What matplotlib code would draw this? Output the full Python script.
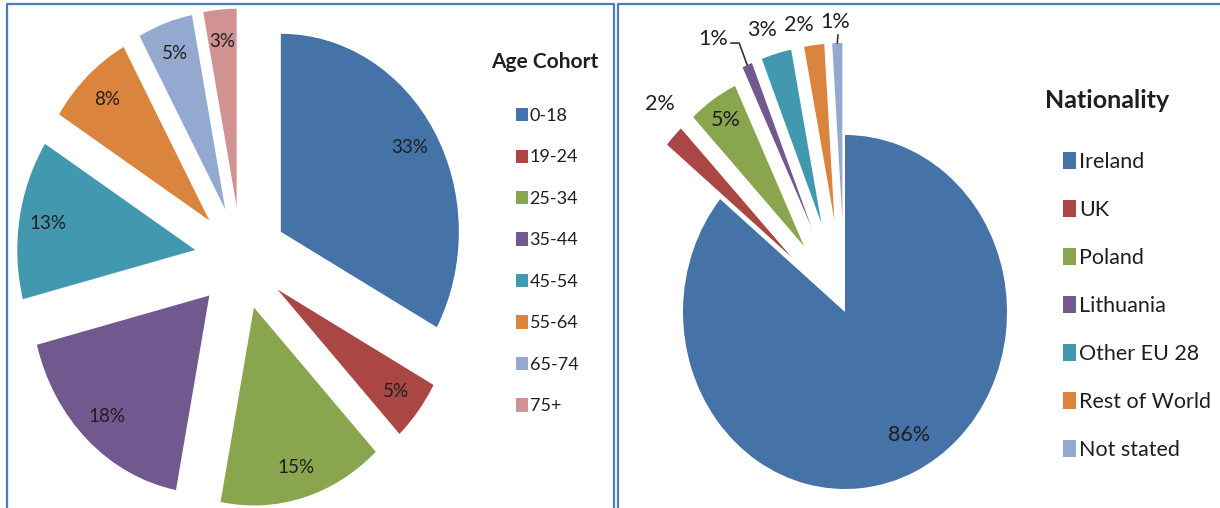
import numpy as np
import matplotlib.pyplot as plt
from matplotlib.lines import Line2D

# data
age_labels = ['0-18', '19-24', '25-34', '35-44', '45-54', '55-64', '65-74', '75+']
age_values = [33, 5, 15, 18, 13, 8, 5, 3]

nat_labels = ['Ireland', 'UK', 'Poland', 'Lithuania', 'Other EU 28',
              'Rest of World', 'Not stated']
nat_values = [86, 2, 5, 1, 3, 2, 1]

# Excel 2007 style palette
palette = ['#4572A7', '#AA4643', '#89A54E', '#71588F',
           '#4198AF', '#DB843D', '#93A9CF', '#D19392']

W, H = 1220, 508
TXT = '#1f1f1f'
FRAME = '#4A7EBB'
plt.rcParams['font.family'] = ['Lato', 'DejaVu Sans']

fig = plt.figure(figsize=(W / 100, H / 100), dpi=100)


def fit_pie(ax, x0, x1, cx, cy, rx, ry):
    # stretch the pie so its centre lands at pixel (cx, cy) with radii rx / ry
    ax.set_aspect('auto')
    ax.set_xlim((x0 - cx) / rx, (x1 - cx) / rx)
    ax.set_ylim(-(H - cy) / ry, cy / ry)
    ax.axis('off')


def px(x, y):
    return x / W, 1 - y / H


# ---- left panel: age cohort
ax1 = fig.add_axes([0, 0, 610 / W, 1])
wedges1, _, pct1 = ax1.pie(age_values, colors=palette,
                           explode=[0.26] * len(age_values),
                           startangle=90, counterclock=False,
                           autopct='%1.0f%%', pctdistance=0.84,
                           textprops=dict(fontsize=13.5, color=TXT))
fit_pie(ax1, 0, 610, 241, 258, 178, 198)

fig.text(*px(545, 62), 'Age Cohort', ha='center', va='center',
         fontsize=15, fontweight='bold', color=TXT)
fig.legend(wedges1, age_labels, loc='upper left',
           bbox_to_anchor=px(516, 108), frameon=False, fontsize=13,
           labelspacing=1.41, handlelength=0.65, handleheight=0.75,
           handletextpad=0.1, borderpad=0, borderaxespad=0, labelcolor=TXT)

# ---- right panel: nationality
ax2 = fig.add_axes([610 / W, 0, 610 / W, 1])
nat_explode = [0, 0.45, 0.45, 0.52, 0.52, 0.52, 0.52]
wedges2, _ = ax2.pie(nat_values, colors=palette[:len(nat_values)],
                     explode=nat_explode, startangle=90, counterclock=False)
fit_pie(ax2, 610, 1220, 845, 312, 162, 177)

# label placement per slice: radial distance, pixel shift, leader line
lab_dist = [0.78, 1.0, 0.86, 1.0, 1.0, 1.0, 1.0]
lab_shift = [(10, 2), (-14, 32), (0, 0), (-34, 26), (-14, 24), (-15, 20), (-2, 21)]
leaders = [None,
           None,
           None,
           dict(angleB=110, relpos=(1, 0.3)),
           None,
           None,
           dict(angleB=85, relpos=(0, 0.3))]

for w, v, d, (dx, dy), lead in zip(wedges2, nat_values, lab_dist, lab_shift, leaders):
    ang = np.deg2rad((w.theta1 + w.theta2) / 2)
    x = w.center[0] + d * w.r * np.cos(ang)
    y = w.center[1] + d * w.r * np.sin(ang)
    arrow = None
    if lead:
        arrow = dict(arrowstyle='-', color='#333333', lw=1.2,
                     connectionstyle=f"angle,angleA=0,angleB={lead['angleB']},rad=0",
                     relpos=lead['relpos'], shrinkA=0, shrinkB=0)
    ax2.annotate(f'{v}%', (x, y), xytext=(dx, dy), textcoords='offset pixels',
                 ha='center', va='center', fontsize=15.5, color=TXT,
                 arrowprops=arrow, annotation_clip=False)

fig.text(*px(1107, 100), 'Nationality', ha='center', va='center',
         fontsize=18, fontweight='bold', color=TXT)
fig.legend(wedges2, nat_labels, loc='upper left',
           bbox_to_anchor=px(1063, 152), frameon=False, fontsize=15.5,
           labelspacing=1.30, handlelength=0.6, handleheight=0.8,
           handletextpad=0.15, borderpad=0, borderaxespad=0, labelcolor=TXT)

# ---- panel frames
for xs, ys in [([7, 7, 614, 614], [508, 4, 4, 508]),
               ([618, 618, 1220], [508, 4, 4])]:
    fig.add_artist(Line2D([x / W for x in xs], [1 - y / H for y in ys],
                          color=FRAME, lw=1.6, transform=fig.transFigure))

fig.savefig('out.png', dpi=100)
